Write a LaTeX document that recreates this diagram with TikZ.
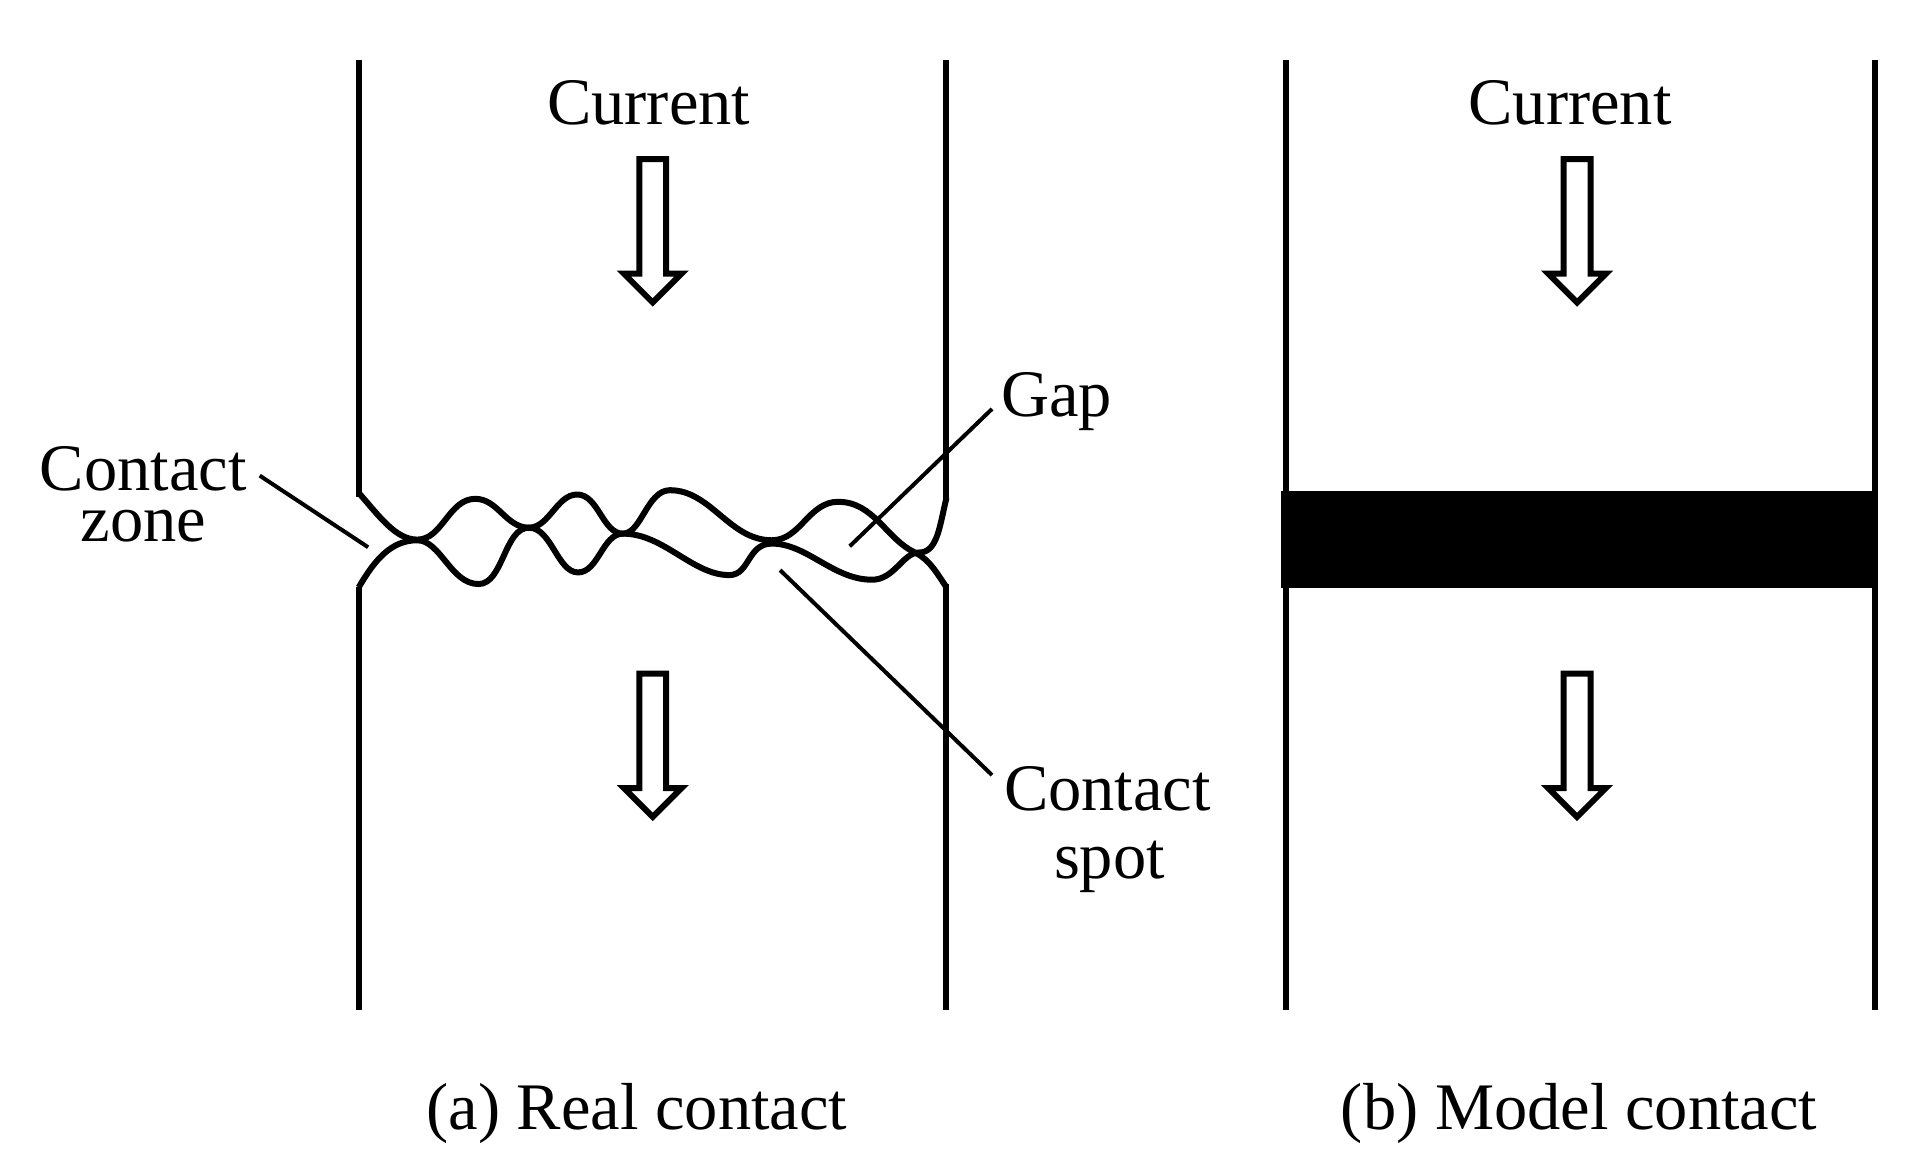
\documentclass[tikz,border=0pt]{standalone}
\usepackage{fontspec}
\setmainfont{Liberation Serif}
\tikzset{
  rail/.style={line width=6pt,line cap=butt,line join=round},
  wave/.style={line width=6pt,line cap=butt,line join=round},
  leader/.style={line width=4pt},
  lab/.style={font=\fontsize{66.5}{66.5}\selectfont,inner sep=0pt,anchor=base},
  hollow/.pic={\draw[line width=6pt,miter limit=10,fill=white]
     (-13.5,0)--(13.5,0)--(13.5,115)--(29,115)--(0,144)--(-29,115)--(-13.5,115)--cycle;}
}
\begin{document}
\begin{tikzpicture}[x=0.995pt,y=-0.995pt]
\useasboundingbox (0,0) rectangle (1932.66,1174.87);
% rails a
\draw[rail] (361,60)--(361,499);
\draw[rail] (361,1015)--(361,590);
\draw[rail] (951,60)--(951,503);
\draw[rail] (951,1015)--(951,587);
% rails b
\draw[rail] (1292,60)--(1292,1015);
\draw[rail] (1884,60)--(1884,1015);
\fill (1287,493) rectangle (1886,591);
% contact waves
\begin{scope}[shift={(340,462)},x=0.409pt,y=-0.3316pt]
\draw[wave] (50,100) .. controls (100,170) and (140,241) .. (193,241)
  .. controls (255,241) and (270,118) .. (335,118)
  .. controls (390,118) and (410,205) .. (466,205)
  .. controls (516,205) and (534,105) .. (584,105)
  .. controls (636,105) and (646,223) .. (696,223)
  .. controls (741,223) and (755,92) .. (811,92)
  .. controls (911,92) and (956,243) .. (1060,243)
  .. controls (1130,243) and (1150,127) .. (1222,127)
  .. controls (1310,127) and (1340,240) .. (1410,280)
  .. controls (1445,300) and (1465,345) .. (1487,385);
\draw[wave] (50,385) .. controls (90,300) and (130,243) .. (193,243)
  .. controls (250,243) and (275,375) .. (343,375)
  .. controls (403,375) and (406,205) .. (466,205)
  .. controls (521,205) and (536,340) .. (586,340)
  .. controls (636,340) and (646,223) .. (696,223)
  .. controls (796,223) and (866,348) .. (956,348)
  .. controls (1006,348) and (1000,253) .. (1060,253)
  .. controls (1146,253) and (1210,362) .. (1305,362)
  .. controls (1360,362) and (1380,280) .. (1420,280)
  .. controls (1465,280) and (1470,200) .. (1487,115);
\end{scope}
% labels
\node[lab] (cur1) at (652,125) {Current};
\node[lab] (cur2) at (1578,125) {Current};
\node[lab] (cz1) at (144,493) {Contact};
\node[lab] (cz2) at (144,544) {zone};
\node[lab,anchor=base west] (gap) at (1006,419) {Gap};
\node[lab] (cs1) at (1113,815) {Contact};
\node[lab] (cs2) at (1115,883) {spot};
\node[lab] (capa) at (640,1135) {(a) Real contact};
\node[lab] (capb) at (1587,1135) {(b) Model contact};
% leaders
\coordinate (czend) at (370,550);
\coordinate (gapend) at (854,549);
\coordinate (csend) at (784,573);
\coordinate (gapstart) at (997,411);
\coordinate (csstart) at (997,779);
\coordinate (czstart) at (261,478);
\draw[leader] (czstart)--(czend);
\draw[leader] (gapstart)--(gapend);
\draw[leader] (csstart)--(csend);
% arrows
\pic at (656,160) {hollow};
\pic at (656,677) {hollow};
\pic at (1585,160) {hollow};
\pic at (1585,677) {hollow};
\end{tikzpicture}
\end{document}
